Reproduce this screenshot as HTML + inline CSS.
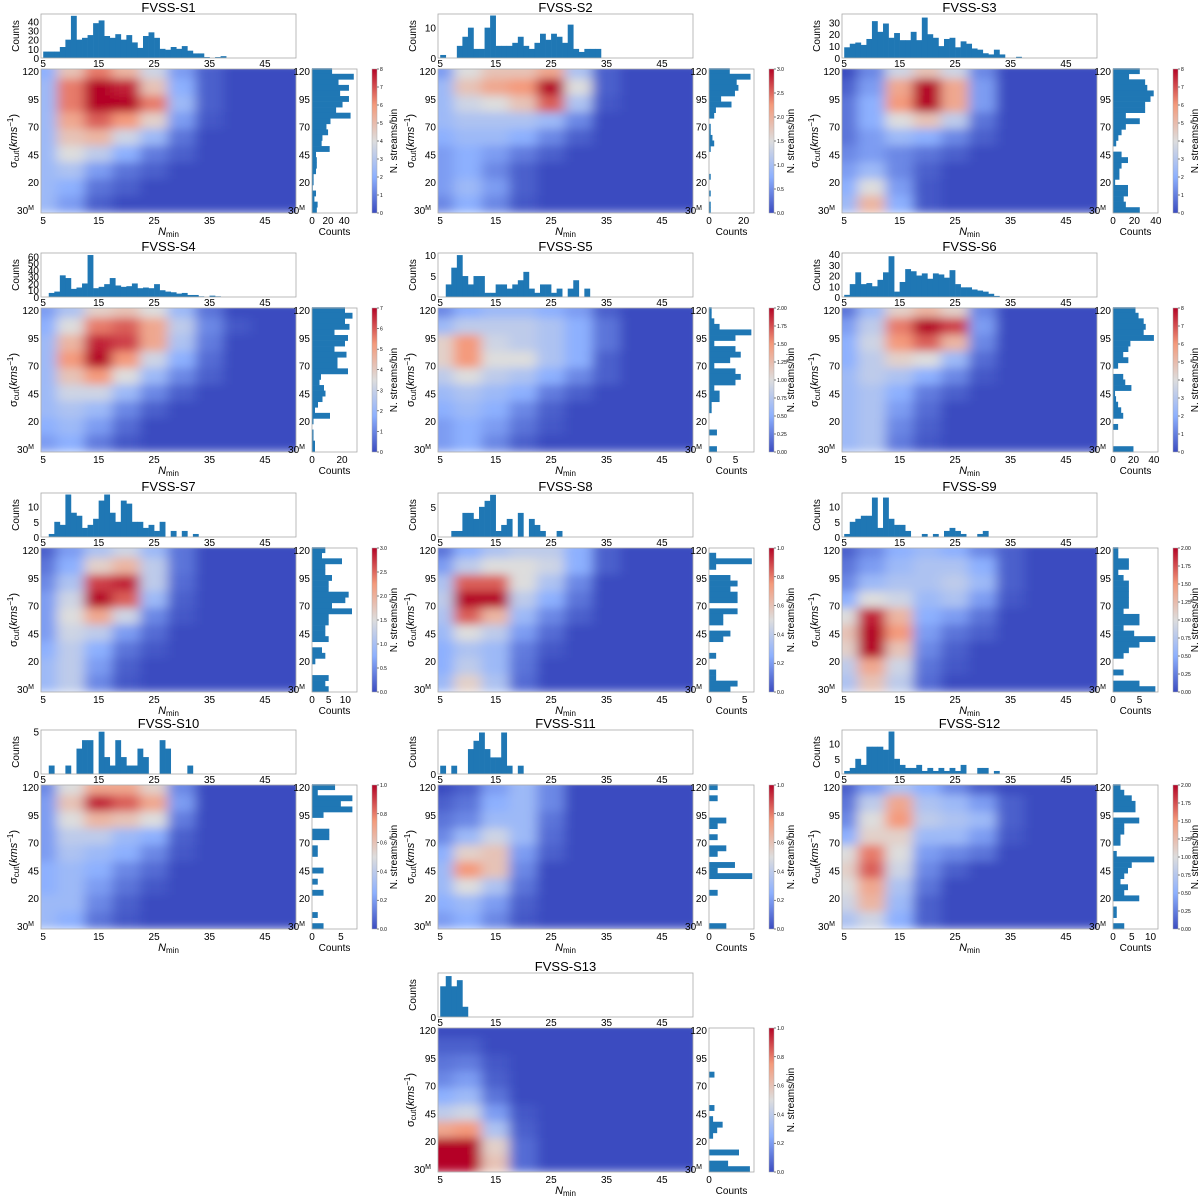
<!DOCTYPE html>
<html><head><meta charset="utf-8"><style>
html,body{margin:0;padding:0;background:#fff;}
svg{display:block;font-family:"Liberation Sans",sans-serif;}
</style></head><body>
<svg id="fig" width="1200" height="1196" viewBox="0 0 1200 1196" xmlns="http://www.w3.org/2000/svg">
<defs>
<filter id="smooth" x="-5%" y="-5%" width="110%" height="110%"><feGaussianBlur stdDeviation="6 4.5" edgeMode="duplicate"/></filter>
<linearGradient id="cmap" x1="0" y1="1" x2="0" y2="0">
<stop offset="0" stop-color="#3b4cc0"/><stop offset="0.25" stop-color="#8db0fe"/><stop offset="0.5" stop-color="#dddddd"/><stop offset="0.75" stop-color="#f49a7b"/><stop offset="1" stop-color="#b40426"/>
</linearGradient>
</defs>
</svg>
<script>
// ---- data (heat grids: rows sigma 120..0 step 15, cols Nmin 5..50 step 5; values as fraction of colour max)
const heatS1=[[0.25,0.6,0.8,0.65,0.45,0.2,0.05,0,0,0],[0.3,0.8,1.15,0.95,0.6,0.25,0.05,0,0,0],[0.3,0.8,1.05,1.05,0.8,0.3,0.05,0,0,0],[0.3,0.7,0.85,0.75,0.55,0.2,0.03,0,0,0],[0.3,0.6,0.65,0.45,0.3,0.1,0,0,0,0],[0.3,0.5,0.4,0.25,0.12,0.05,0,0,0,0],[0.3,0.35,0.2,0.1,0.05,0,0,0,0,0],[0.3,0.25,0.1,0.05,0,0,0,0,0,0],[0.3,0.2,0.05,0,0,0,0,0,0,0]];
const heatS2=[[0.2,0.5,0.6,0.6,0.7,0.35,0.05,0,0,0],[0.3,0.6,0.7,0.75,1.15,0.5,0.05,0,0,0],[0.3,0.45,0.5,0.6,0.85,0.35,0.03,0,0,0],[0.3,0.35,0.35,0.35,0.3,0.15,0,0,0,0],[0.25,0.3,0.3,0.25,0.15,0.05,0,0,0,0],[0.2,0.25,0.2,0.12,0.05,0,0,0,0,0],[0.2,0.25,0.15,0.05,0,0,0,0,0,0],[0.2,0.3,0.2,0.05,0,0,0,0,0,0],[0.15,0.25,0.15,0.03,0,0,0,0,0,0]];
const heatS3=[[0,0.15,0.45,0.6,0.45,0.15,0,0,0,0],[0.05,0.2,0.7,1.0,0.7,0.2,0,0,0,0],[0.1,0.25,0.75,1.15,0.7,0.2,0,0,0,0],[0.1,0.25,0.5,0.6,0.4,0.1,0,0,0,0],[0.1,0.2,0.3,0.25,0.15,0.05,0,0,0,0],[0.15,0.2,0.15,0.1,0.05,0,0,0,0,0],[0.2,0.3,0.15,0.05,0,0,0,0,0,0],[0.25,0.5,0.2,0.03,0,0,0,0,0,0],[0.3,0.65,0.25,0.03,0,0,0,0,0,0]];
const heatS4=[[0.2,0.35,0.55,0.6,0.5,0.3,0.1,0,0,0],[0.25,0.5,0.8,0.85,0.7,0.4,0.15,0.03,0,0],[0.3,0.65,0.95,0.9,0.7,0.35,0.12,0,0,0],[0.3,0.75,1.1,0.75,0.45,0.25,0.08,0,0,0],[0.3,0.6,0.75,0.5,0.3,0.15,0.05,0,0,0],[0.3,0.45,0.45,0.3,0.15,0.05,0,0,0,0],[0.3,0.35,0.3,0.15,0.05,0,0,0,0,0],[0.25,0.3,0.2,0.08,0,0,0,0,0,0],[0.2,0.25,0.12,0.03,0,0,0,0,0,0]];
const heatS5=[[0.15,0.25,0.3,0.3,0.25,0.2,0.05,0,0,0],[0.3,0.4,0.4,0.4,0.35,0.25,0.1,0,0,0],[0.55,0.75,0.45,0.4,0.35,0.25,0.1,0,0,0],[0.55,0.75,0.5,0.5,0.35,0.25,0.05,0,0,0],[0.4,0.5,0.4,0.35,0.25,0.15,0.05,0,0,0],[0.3,0.35,0.3,0.25,0.12,0.05,0,0,0,0],[0.25,0.3,0.25,0.15,0.05,0,0,0,0,0],[0.2,0.25,0.2,0.1,0.03,0,0,0,0,0],[0.2,0.25,0.15,0.05,0,0,0,0,0,0]];
const heatS6=[[0.1,0.3,0.55,0.65,0.55,0.15,0,0,0,0],[0.2,0.4,0.8,1.1,0.9,0.2,0,0,0,0],[0.25,0.45,0.75,0.85,0.65,0.15,0,0,0,0],[0.25,0.4,0.55,0.5,0.3,0.08,0,0,0,0],[0.3,0.4,0.35,0.25,0.15,0.03,0,0,0,0],[0.3,0.35,0.25,0.12,0.05,0,0,0,0,0],[0.3,0.35,0.2,0.08,0,0,0,0,0,0],[0.3,0.35,0.15,0.05,0,0,0,0,0,0],[0.3,0.35,0.12,0.03,0,0,0,0,0,0]];
const heatS7=[[0.05,0.2,0.35,0.45,0.3,0.1,0,0,0,0],[0.1,0.25,0.55,0.65,0.4,0.1,0,0,0,0],[0.15,0.35,0.9,0.95,0.4,0.08,0,0,0,0],[0.2,0.45,1.1,0.85,0.3,0.05,0,0,0,0],[0.2,0.5,0.7,0.45,0.15,0.03,0,0,0,0],[0.2,0.45,0.4,0.2,0.08,0,0,0,0,0],[0.25,0.4,0.25,0.1,0.03,0,0,0,0,0],[0.3,0.4,0.2,0.05,0,0,0,0,0,0],[0.3,0.4,0.15,0.03,0,0,0,0,0,0]];
const heatS8=[[0.1,0.25,0.35,0.4,0.4,0.25,0.05,0,0,0],[0.2,0.4,0.5,0.5,0.45,0.25,0.05,0,0,0],[0.35,0.85,0.85,0.5,0.35,0.15,0,0,0,0],[0.4,1.15,1.0,0.4,0.25,0.1,0,0,0,0],[0.35,0.85,0.65,0.3,0.15,0.05,0,0,0,0],[0.3,0.5,0.4,0.2,0.08,0,0,0,0,0],[0.25,0.35,0.3,0.12,0.03,0,0,0,0,0],[0.25,0.4,0.3,0.1,0,0,0,0,0,0],[0.3,0.55,0.35,0.08,0,0,0,0,0,0]];
const heatS9=[[0.05,0.15,0.25,0.3,0.25,0.15,0.05,0,0,0],[0.1,0.2,0.3,0.35,0.35,0.25,0.05,0,0,0],[0.15,0.3,0.35,0.35,0.4,0.3,0.05,0,0,0],[0.25,0.5,0.45,0.3,0.35,0.2,0.03,0,0,0],[0.5,0.95,0.65,0.25,0.2,0.1,0,0,0,0],[0.6,1.2,0.75,0.2,0.1,0.05,0,0,0,0],[0.55,1.0,0.6,0.15,0.05,0,0,0,0,0],[0.4,0.7,0.45,0.1,0.03,0,0,0,0,0],[0.35,0.6,0.4,0.08,0,0,0,0,0,0]];
const heatS10=[[0.15,0.5,0.7,0.7,0.55,0.15,0,0,0,0],[0.2,0.6,0.95,0.85,0.7,0.2,0,0,0,0],[0.2,0.5,0.65,0.6,0.5,0.12,0,0,0,0],[0.2,0.4,0.4,0.3,0.25,0.05,0,0,0,0],[0.2,0.35,0.3,0.25,0.15,0.03,0,0,0,0],[0.25,0.3,0.25,0.15,0.08,0,0,0,0,0],[0.25,0.3,0.2,0.1,0.03,0,0,0,0,0],[0.3,0.3,0.15,0.05,0,0,0,0,0,0],[0.3,0.25,0.1,0.03,0,0,0,0,0,0]];
const heatS11=[[0,0.05,0.2,0.3,0.15,0,0,0,0,0],[0.05,0.1,0.25,0.3,0.15,0,0,0,0,0],[0.1,0.15,0.3,0.3,0.1,0,0,0,0,0],[0.15,0.3,0.45,0.3,0.08,0,0,0,0,0],[0.25,0.55,0.6,0.2,0.05,0,0,0,0,0],[0.3,0.75,0.6,0.15,0,0,0,0,0,0],[0.3,0.5,0.35,0.1,0,0,0,0,0,0],[0.25,0.3,0.2,0.05,0,0,0,0,0,0],[0.2,0.25,0.15,0.03,0,0,0,0,0,0]];
const heatS12=[[0.05,0.2,0.35,0.25,0.15,0.05,0,0,0,0],[0.1,0.4,0.7,0.35,0.3,0.2,0.05,0,0,0],[0.15,0.5,0.75,0.4,0.35,0.3,0.05,0,0,0],[0.25,0.55,0.55,0.3,0.3,0.2,0.03,0,0,0],[0.5,0.8,0.5,0.2,0.15,0.1,0,0,0,0],[0.55,0.85,0.45,0.15,0.05,0,0,0,0,0],[0.5,0.7,0.35,0.1,0,0,0,0,0,0],[0.45,0.65,0.3,0.05,0,0,0,0,0,0],[0.35,0.45,0.25,0.05,0,0,0,0,0,0]];
const heatS13=[[0,0,0,0,0,0,0,0,0,0],[0.05,0.05,0,0,0,0,0,0,0,0],[0.1,0.12,0.03,0,0,0,0,0,0,0],[0.15,0.2,0.05,0,0,0,0,0,0,0],[0.25,0.3,0.1,0,0,0,0,0,0,0],[0.4,0.45,0.2,0.03,0,0,0,0,0,0],[0.7,0.75,0.35,0.05,0,0,0,0,0,0],[1.2,1.2,0.55,0.08,0,0,0,0,0,0],[1.2,1.2,0.6,0.08,0,0,0,0,0,0]];
const heatNmin=[5,10,15,20,25,30,35,40,45,50];
const heatSigma=[120,105,90,75,60,45,30,15,0];
// top histograms: counts for Nmin = 5,6,7,...
const topS1=[7,7,7,12,20,46,20,22,25,38,41,24,22,26,20,25,17,11,24,28,22,10,9,12,10,13,8,5,5,1,0,1,2];
const topS2=[1,0,0,4,7,10,3,3,10,14,4,4,4,5,7,4,3,5,8,6,8,7,5,11,3,2,3,3,3];
const topS3=[9,12,13,11,16,31,22,29,17,21,15,15,22,15,34,20,17,10,16,17,9,14,12,8,7,4,3,7,3,0,0,1];
const topS4=[0,6,8,32,28,12,14,20,62,13,15,19,28,17,15,16,20,13,14,13,19,10,8,7,5,6,3,3,1,0,2,1];
const topS5=[0,3,7,10,5,3,5,5,1,1,3,3,2,3,4,6,2,1,3,3,1,2,0,2,4,0,2];
const topS6=[2,12,23,12,13,10,16,23,38,5,14,26,24,20,22,17,22,21,18,25,12,9,9,7,6,5,3,1];
const topS7=[0,1,5,4,14,8,7,3,4,6,12,14,8,5,12,11,5,5,3,4,2,5,0,2,0,2,0,1];
const topS8=[0,0,1,1,4,4,3,5,6,7,1,2,3,0,4,0,3,2,1,0,0,1];
const topS9=[1,5,6,7,7,13,3,13,6,4,4,2,0,0,1,0,1,0,2,3,2,1,0,0,1,2];
const topS10=[0,1,0,0,1,0,3,4,4,0,5,2,1,4,2,1,1,3,2,0,0,4,3,0,0,0,1];
const topS11=[1,0,1,0,0,3,4,5,3,2,2,5,1,0,1];
const topS12=[1,2,5,3,9,9,9,8,14,5,3,2,2,3,1,2,1,2,1,2,1,3,0,0,2,2,0,1];
const topS13=[3,4,3,3.6,1];
// right histograms: counts for sigma bins 120,115,...,-5 (top to bottom)
const rightS1=[25,52,33,46,35,46,38,30,48,23,18,20,13,12,22,5,6,6,5,2,2,1,5,3,7,6];
const rightS2=[12,24,16,17,15,7,13,4,3,0,1,1,2,3,1,0,0,0,0,1,0,0,1,0,1,1];
const rightS3=[25,15,30,32,38,35,30,30,12,25,12,8,5,3,0,8,14,8,6,6,2,14,14,10,12,25];
const rightS4=[22,27,22,25,15,24,22,15,23,17,17,24,6,5,8,9,7,4,2,12,1,0,1,1,2,2];
const rightS5=[0.5,0.5,1,2,8,5,1,5,6,4,1,5,6,5,1,2,2,0.5,0.5,0,0,0,1.5,0,0,1.5];
const rightS6=[22,25,30,32,30,40,17,15,10,15,5,0,10,12,18,2,3,5,8,10,0,5,0,0,0,20];
const rightS7=[4,3,9,4,4,6,5,5,11,10,6,12,5,5,4,4,5,0,3,4,1,0,0,5,4,5];
const rightS8=[0,1,6,1,0,3,4,3,4,4,0,4,2,2,0,3,2,0,0,1,0,0,1,1,4,3];
const rightS9=[1,1,3,3,1,2,3,3,3,3,3,2,5,5,2,4,8,5,3,2,0,0,2,0,5,8];
const rightS10=[4,1,7,5,7,2,0,0,3,3,0,1,1,0,0,2,0,1,0,2,0,0,0,1,0,2];
const rightS11=[1,0,1,0,0,0,2,1,0,1,0,2,1,0,3,1,5,0,0,1,0,0,0,0,0,2];
const rightS12=[2,3,5,6,6,0,7,3,3,2,2,0,1,11,5,4,3,2,4,3,7,0,1,1,0,3];
const rightS13=[0,0,0,0,0,0,0,0,2,0,0,0,0,0,2,0,1.5,5,3,1.5,0,0,11,0,7,15];
const rightSigma=[120,115,110,105,100,95,90,85,80,75,70,65,60,55,50,45,40,35,30,25,20,15,10,5,0,-5];
const xTickLabels=[5,15,25,35,45];
const yTickLabels=[120,95,70,45,20];
// axis limits / ticks per panel
const titles=["FVSS-S1","FVSS-S2","FVSS-S3","FVSS-S4","FVSS-S5","FVSS-S6","FVSS-S7","FVSS-S8","FVSS-S9","FVSS-S10","FVSS-S11","FVSS-S12","FVSS-S13"];
const topMax=[48,14.5,37,65,10.5,41,14.5,7.3,14.5,5.2,5.3,14.5,4.3];
const topTicks=[[0,10,20,30,40],[0,10],[0,10,20,30],[0,10,20,30,40,50,60],[0,5,10],[0,10,20,30,40],[0,5,10],[0,5],[0,5,10],[0,5],[0],[0,5,10],[0]];
const rightMax=[56,26,42,30,8.5,44,13.5,6.3,8.5,7.8,5.2,12,16.5];
const rightTicks=[[0,20,40],[0,20],[0,20,40],[0,20],[0,5],[0,20,40],[0,5,10],[0,5],[0,5],[0,5],[0,5],[0,5,10],[0]];
const cbarTicks=[["0","1","2","3","4","5","6","7","8"],["0.0","0.5","1.0","1.5","2.0","2.5","3.0"],["0","1","2","3","4","5","6","7","8"],["0","1","2","3","4","5","6","7"],["0.00","0.25","0.50","0.75","1.00","1.25","1.50","1.75","2.00"],["0","1","2","3","4","5","6","7","8"],["0.0","0.5","1.0","1.5","2.0","2.5","3.0"],["0.0","0.2","0.4","0.6","0.8","1.0"],["0.00","0.25","0.50","0.75","1.00","1.25","1.50","1.75","2.00"],["0.0","0.2","0.4","0.6","0.8","1.0"],["0.0","0.2","0.4","0.6","0.8","1.0"],["0.00","0.25","0.50","0.75","1.00","1.25","1.50","1.75","2.00"],["0.0","0.2","0.4","0.6","0.8","1.0"]];
const heats=[heatS1,heatS2,heatS3,heatS4,heatS5,heatS6,heatS7,heatS8,heatS9,heatS10,heatS11,heatS12,heatS13];
const tops=[topS1,topS2,topS3,topS4,topS5,topS6,topS7,topS8,topS9,topS10,topS11,topS12,topS13];
const rights=[rightS1,rightS2,rightS3,rightS4,rightS5,rightS6,rightS7,rightS8,rightS9,rightS10,rightS11,rightS12,rightS13];

const NS="http://www.w3.org/2000/svg";
const svg=document.getElementById('fig');
const colX=[41,438,842], rowY=[69,308,548,785,1028];
const HW=255, HH=144;
const stops=[[59,76,192],[141,176,254],[221,221,221],[244,154,123],[180,4,38]];
function cmap(v){v=Math.max(0,Math.min(1,v));const t=v*4;const i=Math.min(3,Math.floor(t));const f=t-i;const a=stops[i],b=stops[i+1];
return 'rgb('+a.map((c,k)=>Math.round(c+(b[k]-c)*f)).join(',')+')';}
function mk(tag,attrs,parent){const e=document.createElementNS(NS,tag);for(const k in attrs)e.setAttribute(k,attrs[k]);(parent||svg).appendChild(e);return e;}
function txt(s,x,y,size,anchor,parent){const t=mk('text',{x:x,y:y,'font-size':size,'text-anchor':anchor||'middle',fill:'#000'},parent);t.textContent=s;return t;}

titles.forEach((title,p)=>{
  const col=p<12?p%3:1, row=p<12?Math.floor(p/3):4;
  const X=colX[col], Y=rowY[row];
  const g=mk('g',{});
  
  
  const xs=n=>X+(n-4.6)/46*HW;
  const ys=s=>Y+(121.8-s)/129.5*HH;
  const tt=txt(title,X+HW/2,Y-57,13,'middle',g);
  
  
  // heatmap
  const clipId='clip'+p;
  const cp=mk('clipPath',{id:clipId},g);mk('rect',{x:X,y:Y,width:HW,height:HH},cp);
  const hc=mk('g',{'clip-path':'url(#'+clipId+')'},g);
  
  
  const hb=mk('g',{filter:'url(#smooth)'},hc);
  heats[p].forEach((r,ri)=>r.forEach((v,ci)=>{
    const x0=xs(heatNmin[ci]-2.5)-0.5, x1=xs(heatNmin[ci]+2.5)+0.5;
    const y0=ys(heatSigma[ri]+7.5)-0.5, y1=ys(heatSigma[ri]-7.5)+0.5;
    const c=mk('rect',{x:x0,y:y0,width:x1-x0,height:y1-y0,fill:cmap(v)},hb);
    
    
  }));
  mk('rect',{x:X,y:Y,width:HW,height:HH,fill:'none',stroke:'#aaa','stroke-width':0.8},g);
  const RX=X+HW+16, RW=45;
  xTickLabels.forEach(n=>{const t=txt(String(n),xs(n),Y+HH+11,10,'middle',g);
    const t2=txt(String(n),xs(n),Y-2,10,'middle',g);});
  yTickLabels.forEach(s=>{const t=txt(String(s),X-2,ys(s)+4,10,'end',g);
    const t2=txt(String(s),RX-2,ys(s)+4,10,'end',g);});
  const m1=txt('30',X-7,ys(-5)+4,10,'end',g);m1.innerHTML='30<tspan font-size="7" dy="-4">M</tspan>';
  
  
  const m2=txt('30',RX-7,ys(-5)+4,10,'end',g);m2.innerHTML='30<tspan font-size="7" dy="-4">M</tspan>';
  
  
  const xl=txt('',X+HW/2,Y+HH+22,11,'middle',g);xl.innerHTML='<tspan font-style="italic">N</tspan><tspan font-size="8" dy="2">min</tspan>';
  
  
  const yl=mk('text',{transform:'translate('+(X-24)+','+(Y+HH/2)+') rotate(-90)','font-size':11,'text-anchor':'middle'},g);
  yl.innerHTML='σ<tspan font-size="8" dy="2">cut</tspan><tspan dy="-2">(</tspan><tspan font-style="italic">kms</tspan><tspan font-size="8" dy="-4">−1</tspan><tspan dy="4">)</tspan>';
  
  
  // top histogram
  const TY=Y-55, TH=44;
  const tsy=v=>TY+TH-v/topMax[p]*TH;
  const tg=mk('g',{},g);
  
  
  tops[p].forEach((v,i)=>{ if(v<=0)return; const n=5+i;
    const b=mk('rect',{x:xs(n),y:tsy(v),width:xs(n+1)-xs(n)+0.3,height:TY+TH-tsy(v),fill:'#1f77b4'},tg);
    
    });
  mk('rect',{x:X,y:TY,width:HW,height:TH,fill:'none',stroke:'#aaa','stroke-width':0.8},g);
  topTicks[p].forEach(v=>{const t=txt(String(v),X-2,tsy(v)+4,10,'end',g);});
  const tl=mk('text',{transform:'translate('+(X-22)+','+(TY+TH/2)+') rotate(-90)','font-size':10,'text-anchor':'middle'},g);tl.textContent='Counts';
  
  
  // right histogram
  const rsx=v=>RX+v/rightMax[p]*RW;
  const rg=mk('g',{},g);
  
  
  rights[p].forEach((v,i)=>{ if(v<=0)return; const s=rightSigma[i];
    const y0=ys(s+2.5), y1=ys(s-2.5);
    const b=mk('rect',{x:RX,y:y0,width:rsx(v)-RX,height:y1-y0+0.3,fill:'#1f77b4'},rg);
    
    });
  mk('rect',{x:RX,y:Y,width:RW,height:HH,fill:'none',stroke:'#aaa','stroke-width':0.8},g);
  rightTicks[p].forEach(v=>{const t=txt(String(v),rsx(v),Y+HH+11,10,'middle',g);});
  const rl=txt('Counts',RX+RW/2,Y+HH+22,10,'middle',g);
  
  
  // colorbar
  const CX=X+331;
  const cb=mk('rect',{x:CX,y:Y,width:5,height:HH,fill:'url(#cmap)',stroke:'#aaa','stroke-width':0.5},g);
  
  
  const ct=cbarTicks[p];
  ct.forEach((s,i)=>{const yy=Y+HH-i/(ct.length-1)*HH;
    mk('line',{x1:CX+5,x2:CX+7,y1:yy,y2:yy,stroke:'#000','stroke-width':0.5},g);
    const t=txt(s,CX+8,yy+2,5,'start',g);});
  const cl=mk('text',{transform:'translate('+(CX+25)+','+(Y+HH/2)+') rotate(-90)','font-size':10,'text-anchor':'middle'},g);cl.textContent='N. streams/bin';
  
  
});
</script>
</body></html>
